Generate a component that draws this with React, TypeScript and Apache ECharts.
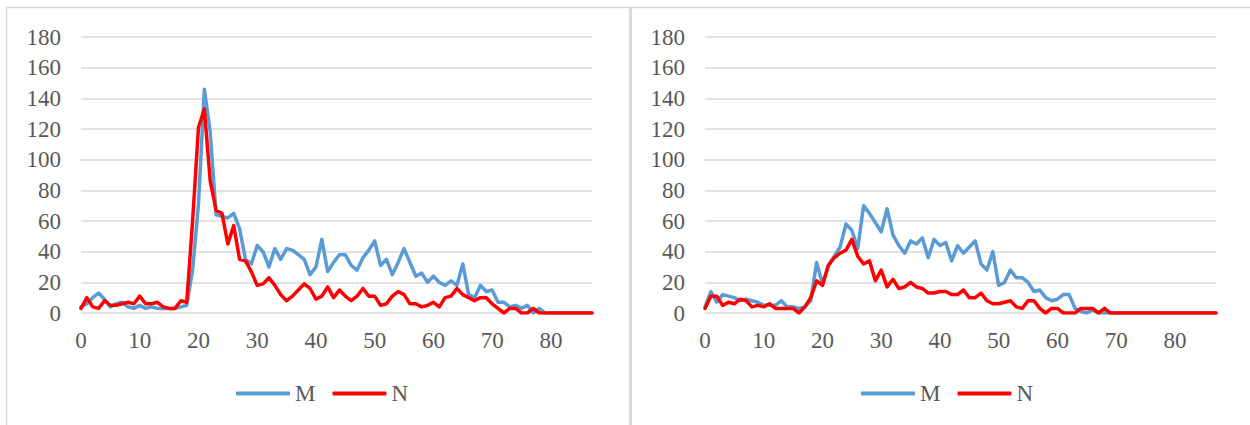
import React, { useEffect, useRef } from "react";
import * as echarts from "echarts";

const categories: string[] = Array.from({ length: 88 }, (_, i) => String(i));
const yTicks = { min: 0, max: 180, interval: 20 };

const leftM = [4,6,10,13,9,4,6,7,4,3,5,3,4,3,3,3,3,4,5,28,71,146,118,64,63,62,65,55,35,32,44,40,30,42,35,42,41,38,35,25,30,48,27,33,38,38,31,28,36,41,47,31,35,25,33,42,33,24,26,20,24,20,18,21,18,32,12,10,18,14,15,7,7,4,5,3,5,0,3,0,0,0,0,0,0,0,0,0];
const leftN = [3,10,4,3,8,5,5,6,7,6,11,6,6,7,4,3,3,8,7,60,121,133,86,67,65,45,57,35,34,27,18,19,23,18,12,8,11,15,19,16,9,11,17,10,15,11,8,11,16,11,11,5,6,11,14,12,6,6,4,5,7,4,10,11,16,12,10,8,10,10,6,3,0,3,3,0,0,3,0,0,0,0,0,0,0,0,0,0];
const rightM = [4,14,7,12,11,10,8,9,8,7,5,5,5,8,4,4,3,4,8,33,19,31,37,43,58,54,42,70,65,59,53,68,51,44,39,47,45,49,36,48,44,46,34,44,39,43,47,32,28,40,18,20,28,23,23,20,14,15,10,8,9,12,12,3,1,0,2,0,0,0,0,0,0,0,0,0,0,0,0,0,0,0,0,0,0,0,0,0];
const rightN = [3,11,11,5,7,6,9,8,4,5,4,6,3,3,3,3,0,4,10,21,18,31,36,39,41,48,37,32,34,21,28,17,22,16,17,20,17,16,13,13,14,14,12,12,15,10,10,13,8,6,6,7,8,4,3,8,8,3,0,3,3,0,0,0,3,3,3,0,3,0,0,0,0,0,0,0,0,0,0,0,0,0,0,0,0,0,0,0];
const seriesNames = ["M", "N"];

const BLUE = "#5B9BD5";
const RED = "#FF0000";
const GRID = "#D9D9D9";
const TEXT = "#595959";
const FONT = "Liberation Serif";

export default function App() {
  const ref = useRef<HTMLDivElement>(null);
  useEffect(() => {
    if (!ref.current) return;
    const chart = echarts.init(ref.current, undefined, { renderer: "svg" });
    const xAxis = (gridIndex: number) => ({
      type: "category",
      gridIndex,
      data: categories,
      boundaryGap: false,
      axisLine: { show: false },
      axisTick: { show: false },
      splitLine: { show: false },
      axisLabel: { interval: 9, margin: 16, color: TEXT, fontFamily: FONT, fontSize: 23 },
    });
    const yAxis = (gridIndex: number) => ({
      type: "value",
      gridIndex,
      min: yTicks.min,
      max: yTicks.max,
      interval: yTicks.interval,
      axisLine: { show: false },
      axisTick: { show: false },
      splitLine: { show: true, lineStyle: { color: GRID, width: 1.5 } },
      axisLabel: { margin: 20, color: TEXT, fontFamily: FONT, fontSize: 23 },
    });
    const line = (name: string, data: number[], color: string, idx: number) => ({
      type: "line",
      name,
      data,
      xAxisIndex: idx,
      yAxisIndex: idx,
      symbol: "none",
      showSymbol: false,
      color,
      lineStyle: { color, width: 3.5, cap: "round", join: "round" },
    });
    const legend = (left: number) => ({
      left,
      top: 377,
      data: seriesNames,
      icon: "roundRect",
      itemWidth: 54,
      itemHeight: 4,
      itemGap: 17,
      selectedMode: false,
      textStyle: { color: TEXT, fontFamily: FONT, fontSize: 23 },
    });
    chart.setOption({
      animation: false,
      backgroundColor: "#ffffff",
      grid: [
        { left: 81, right: 658, top: 37, bottom: 112 },
        { left: 705, right: 34, top: 37, bottom: 112 },
      ],
      xAxis: [xAxis(0), xAxis(1)],
      yAxis: [yAxis(0), yAxis(1)],
      legend: [legend(231), legend(856)],
      series: [
        line(seriesNames[0], leftM, BLUE, 0),
        line(seriesNames[1], leftN, RED, 0),
        line(seriesNames[0], rightM, BLUE, 1),
        line(seriesNames[1], rightN, RED, 1),
      ],
      graphic: [
        { type: "line", shape: { x1: 6, y1: 7.5, x2: 1250, y2: 7.5 }, style: { stroke: GRID, lineWidth: 1.5 } },
        { type: "line", shape: { x1: 6.5, y1: 7, x2: 6.5, y2: 425 }, style: { stroke: GRID, lineWidth: 1.5 } },
        { type: "rect", shape: { x: 629, y: 7, width: 3, height: 418 }, style: { fill: GRID } },
      ],
    });
    return () => chart.dispose();
  }, []);
  return (
    <div
      ref={ref}
      style={{ position: "absolute", left: 0, top: 0, width: 1250, height: 425 }}
    />
  );
}
